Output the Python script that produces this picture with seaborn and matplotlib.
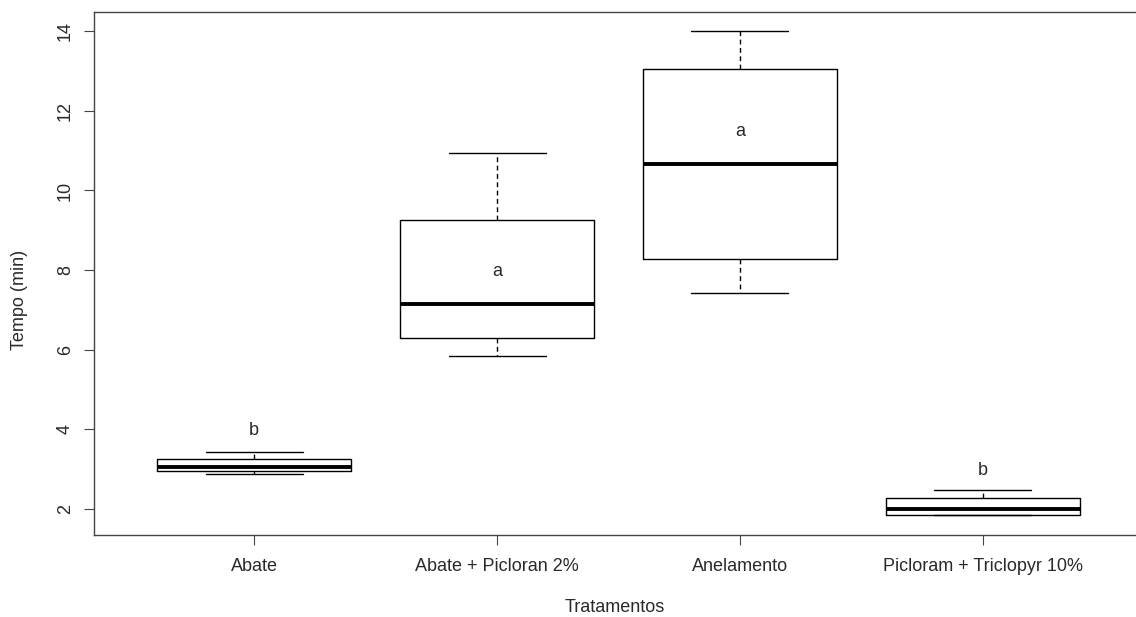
import numpy as np
import pandas as pd
import seaborn as sns
import matplotlib.pyplot as plt

# Five-number summaries per treatment (min, Q1, median, Q3, max), in minutes
tratamentos = ["Abate", "Abate + Picloran 2%", "Anelamento", "Picloram + Triclopyr 10%"]
abate = [2.88, 2.96, 3.06, 3.27, 3.44]
abate_picloran = [5.85, 6.29, 7.15, 9.26, 10.93]
anelamento = [7.42, 8.29, 10.66, 13.06, 14.00]
picloram_triclopyr = [1.85, 1.85, 2.00, 2.29, 2.49]

# Tukey grouping letters and their heights
letras = ["b", "a", "a", "b"]
letras_y = [3.97, 7.96, 11.49, 2.96]

yticks = [2, 4, 6, 8, 10, 12, 14]

df = pd.DataFrame({
    "Tratamento": np.repeat(tratamentos, 5),
    "Tempo": abate + abate_picloran + anelamento + picloram_triclopyr,
})

sns.set_theme(style="white")
plt.rcParams["font.family"] = ["Liberation Sans", "DejaVu Sans"]

fig = plt.figure(figsize=(11.36, 6.17), dpi=100)
ax = fig.add_axes([94 / 1136, 82 / 617, (1143 - 94) / 1136, (535 - 12) / 617])

sns.boxplot(
    data=df, x="Tratamento", y="Tempo", order=tratamentos, ax=ax,
    width=0.8, whis=(0, 100), fill=False, color="black", linecolor="black",
    linewidth=1.0,
    boxprops=dict(linewidth=1.0, color="black"),
    medianprops=dict(linewidth=2.8, color="black", solid_capstyle="butt"),
    whiskerprops=dict(linewidth=1.0, color="black", linestyle=(0, (3.5, 2.5))),
    capprops=dict(linewidth=1.0, color="black"),
)

txt = "#2a2a2a"
fs = 13
for i, (lt, yy) in enumerate(zip(letras, letras_y)):
    ax.text(i, yy, lt, ha="center", va="center", fontsize=fs, color=txt)

ax.set_xlim(-0.66, 3.66)
ax.set_ylim(1.35, 14.48)
ax.set_yticks(yticks)
ax.set_yticklabels([str(v) for v in yticks], rotation=90, va="center")

for s in ["left", "bottom", "top", "right"]:
    ax.spines[s].set_visible(True)
    ax.spines[s].set_color("#444444")
    ax.spines[s].set_linewidth(1.0)

ax.tick_params(axis="both", which="both", length=7.5, width=0.8, color="#444444",
               labelsize=fs, labelcolor=txt, direction="out")
ax.tick_params(axis="y", left=True, pad=7)
ax.tick_params(axis="x", bottom=True, pad=9)

ax.set_xlabel("Tratamentos", fontsize=fs, color=txt, va="center")
ax.set_ylabel("Tempo (min)", fontsize=fs, color=txt, va="center")
w_px, h_px = 1143 - 94, 535 - 12
ax.xaxis.set_label_coords((615 - 94) / w_px, -(607 - 535) / h_px)
ax.yaxis.set_label_coords(-(94 - 20) / w_px, (535 - 300) / h_px)

fig.savefig("out.png", dpi=100, facecolor="white")
